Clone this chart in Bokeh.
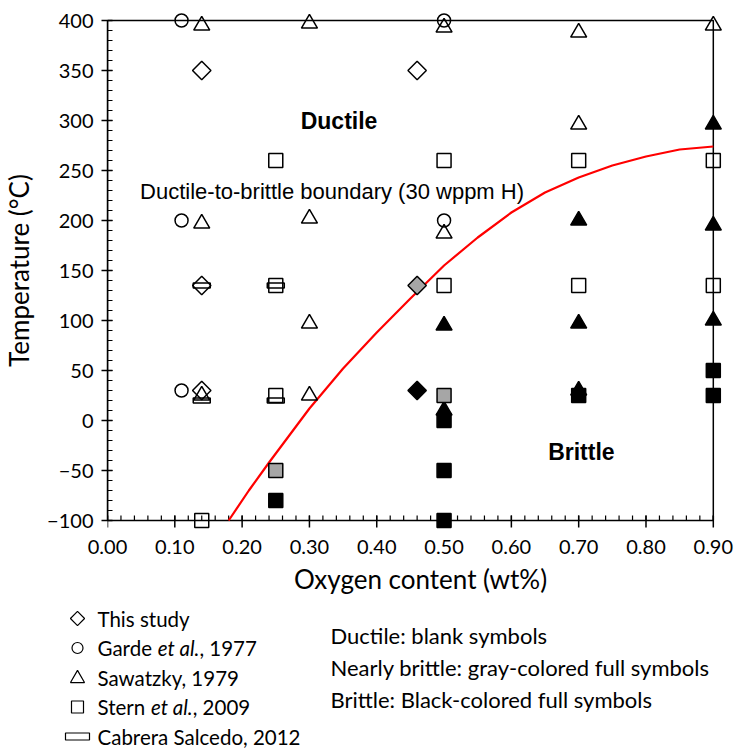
import glob
import math
import struct

from bokeh.core.properties import value
from bokeh.embed import file_html
from bokeh.layouts import column
from bokeh.models import ColumnDataSource, FixedTicker, NumeralTickFormatter, Range1d
from bokeh.plotting import figure
from bokeh.resources import INLINE

# ---------------- data ----------------
x_ticks = [0.0, 0.1, 0.2, 0.3, 0.4, 0.5, 0.6, 0.7, 0.8, 0.9]
y_ticks = [-100, -50, 0, 50, 100, 150, 200, 250, 300, 350, 400]

# state codes: D = ductile (blank), N = nearly brittle (gray), B = brittle (black)
study_o = [0.14, 0.46, 0.14, 0.14, 0.46, 0.46]
study_t = [350, 350, 135, 30, 135, 30]
study_s = ["D", "D", "D", "D", "N", "B"]

garde_o = [0.11, 0.11, 0.11, 0.50, 0.50]
garde_t = [400, 200, 30, 400, 200]
garde_s = ["D", "D", "D", "D", "D"]

sawatzky_o = [0.14, 0.30, 0.50, 0.70, 0.90, 0.14, 0.30, 0.50, 0.70, 0.30, 0.30, 0.14,
              0.90, 0.70, 0.90, 0.50, 0.70, 0.90, 0.50, 0.70]
sawatzky_t = [395, 397, 393, 388, 395, 197, 202, 187, 296, 97, 25, 25,
              296, 200, 195, 95, 97, 100, 10, 30]
sawatzky_s = ["D"] * 12 + ["B"] * 8

stern_o = [0.25, 0.50, 0.70, 0.90, 0.25, 0.50, 0.70, 0.90, 0.25, 0.14,
           0.25, 0.50,
           0.25, 0.50, 0.50, 0.50, 0.70, 0.90, 0.90]
stern_t = [260, 260, 260, 260, 135, 135, 135, 135, 25, -100,
           -50, 25,
           -80, 0, -50, -100, 25, 50, 25]
stern_s = ["D"] * 10 + ["N"] * 2 + ["B"] * 7

cabrera_o = [0.14, 0.25, 0.14, 0.25]
cabrera_t = [135, 135, 20, 20]
cabrera_s = ["D", "D", "D", "D"]

boundary_o = [0.18, 0.21, 0.24, 0.27, 0.30, 0.35, 0.40, 0.45, 0.50, 0.55,
              0.60, 0.65, 0.70, 0.75, 0.80, 0.85, 0.90]
boundary_t = [-100, -70, -42, -15, 12, 52, 88, 122, 155, 183,
              208, 228, 243, 255, 264, 271, 274]

legend_entries = [
    [("This study", "normal")],
    [("Garde ", "normal"), ("et al.", "italic"), (", 1977", "normal")],
    [("Sawatzky, 1979", "normal")],
    [("Stern ", "normal"), ("et al.", "italic"), (", 2009", "normal")],
    [("Cabrera Salcedo, 2012", "normal")],
]
legend_markers = ["diamond", "circle", "triangle", "square", "rect"]
notes = ["Ductile: blank symbols",
         "Nearly brittle: gray-colored full symbols",
         "Brittle: Black-colored full symbols"]

FILL = {"D": ("white", 0.0), "N": ("#a6a6a6", 1.0), "B": ("black", 1.0)}
FONT = "Lato"


# ---------------- text width helper (reads font metrics) ----------------
def _font_advance(pattern):
    paths = sorted(glob.glob("/usr/share/fonts/**/" + pattern, recursive=True))
    if not paths:
        return None
    try:
        data = open(paths[0], "rb").read()
        ntab = struct.unpack(">H", data[4:6])[0]
        tabs = {}
        for i in range(ntab):
            tag, _, off, _ = struct.unpack(">4sIII", data[12 + 16 * i: 28 + 16 * i])
            tabs[tag] = off
        upem = struct.unpack(">H", data[tabs[b"head"] + 18: tabs[b"head"] + 20])[0]
        nhm = struct.unpack(">H", data[tabs[b"hhea"] + 34: tabs[b"hhea"] + 36])[0]
        ho = tabs[b"hmtx"]
        adv = [struct.unpack(">H", data[ho + 4 * i: ho + 4 * i + 2])[0] for i in range(nhm)]
        co = tabs[b"cmap"]
        nsub = struct.unpack(">H", data[co + 2: co + 4])[0]
        cmap = {}
        for i in range(nsub):
            _, _, so = struct.unpack(">HHI", data[co + 4 + 8 * i: co + 12 + 8 * i])
            st = co + so
            if struct.unpack(">H", data[st: st + 2])[0] != 4:
                continue
            seg2 = struct.unpack(">H", data[st + 6: st + 8])[0]
            n = seg2 // 2
            ends = struct.unpack(">%dH" % n, data[st + 14: st + 14 + seg2])
            starts = struct.unpack(">%dH" % n, data[st + 16 + seg2: st + 16 + 2 * seg2])
            deltas = struct.unpack(">%dh" % n, data[st + 16 + 2 * seg2: st + 16 + 3 * seg2])
            rpos = st + 16 + 3 * seg2
            ros = struct.unpack(">%dH" % n, data[rpos: rpos + seg2])
            for k in range(n):
                for c in range(starts[k], min(ends[k], 0x2FF) + 1):
                    if ros[k] == 0:
                        g = (c + deltas[k]) & 0xFFFF
                    else:
                        a = rpos + 2 * k + ros[k] + 2 * (c - starts[k])
                        g = struct.unpack(">H", data[a: a + 2])[0]
                        if g:
                            g = (g + deltas[k]) & 0xFFFF
                    cmap[c] = g
            break
        return lambda s, size: sum(adv[min(cmap.get(ord(ch), 0), nhm - 1)] for ch in s) * size / upem
    except Exception:
        return None


_fallback = lambda s, size: 0.5 * size * len(s)
width_normal = _font_advance("Lato-Regular.ttf") or _fallback
width_italic = _font_advance("Lato-Italic.ttf") or width_normal


# ---------------- main chart ----------------
X_MIN, X_MAX = x_ticks[0], x_ticks[-1]
Y_MIN, Y_MAX = y_ticks[0], y_ticks[-1]
FRAME_H = 520
Y_LO, Y_HI = -110, 410
PX = FRAME_H / (Y_HI - Y_LO)          # screen pixels per degree

p = figure(width=736, height=600,
           x_range=Range1d(X_MIN, 0.93), y_range=Range1d(Y_LO, Y_HI),
           output_backend="svg", toolbar_location=None,
           min_border_left=106, min_border_right=3, min_border_top=10, min_border_bottom=70)
p.outline_line_color = None
p.grid.visible = False
p.background_fill_color = "white"
p.border_fill_color = "white"

for ax in (p.xaxis[0], p.yaxis[0]):
    ax.axis_line_color = "black"
    ax.axis_line_width = 1.5
    ax.major_tick_line_color = "black"
    ax.major_tick_line_width = 1.5
    ax.minor_tick_line_color = "black"
    ax.minor_tick_line_width = 1.2
    ax.major_tick_in = 5
    ax.major_tick_out = 6
    ax.minor_tick_in = 5
    ax.minor_tick_out = 0
    ax.major_label_text_font = FONT
    ax.major_label_text_font_size = "20px"
    ax.major_label_text_color = "black"
    ax.axis_label_text_font = FONT
    ax.axis_label_text_font_size = "26px"
    ax.axis_label_text_font_style = "normal"
    ax.axis_label_text_color = "black"

# x axis: the real axis only carries labels; its line and ticks are drawn at -100 below
xa = p.xaxis[0]
xa.axis_line_color = None
xa.major_tick_line_color = None
xa.minor_tick_line_color = None
xa.major_tick_in = 0
xa.major_tick_out = 0
xa.bounds = (X_MIN, X_MAX)
xa.ticker = FixedTicker(ticks=x_ticks, minor_ticks=[])
xa.formatter = NumeralTickFormatter(format="0.00")
xa.major_label_standoff = 9
xa.axis_label = "Oxygen content (wt%)"
xa.axis_label_standoff = 6

ya = p.yaxis[0]
ya.bounds = (Y_MIN, Y_MAX)
ya.ticker = FixedTicker(ticks=y_ticks, minor_ticks=list(range(Y_MIN, Y_MAX + 1, 10)))
ya.major_label_standoff = 8
ya.axis_label = "Temperature (°C)"
ya.axis_label_standoff = 9

# frame: bottom axis line at -100, top and right lines
p.line([X_MIN, X_MIN, X_MAX, X_MAX, X_MIN], [Y_MIN, Y_MAX, Y_MAX, Y_MIN, Y_MIN],
       line_color="black", line_width=1.5)
x_minor = [round(i * 0.02, 2) for i in range(46)]
p.segment(x0=x_minor, y0=[Y_MIN] * len(x_minor), x1=x_minor,
          y1=[Y_MIN + 5 / PX] * len(x_minor), line_color="black", line_width=1.2)
p.segment(x0=x_ticks, y0=[Y_MIN - 7 / PX] * len(x_ticks), x1=x_ticks,
          y1=[Y_MIN + 5 / PX] * len(x_ticks), line_color="black", line_width=1.5)

# boundary curve
p.line(boundary_o, boundary_t, line_color="#ff0000", line_width=2.2)


def make_src(o, t, s):
    return ColumnDataSource(dict(x=o, y=t,
                                 fc=[FILL[k][0] for k in s],
                                 fa=[FILL[k][1] for k in s]))


common = dict(fill_color="fc", fill_alpha="fa", line_color="black", line_width=1.5)
p.scatter("x", "y", source=make_src(study_o, study_t, study_s), marker="square",
          angle=math.pi / 4, size=13, **common)
p.scatter("x", "y", source=make_src(garde_o, garde_t, garde_s), marker="circle",
          size=13, **common)
p.scatter("x", "y", source=make_src(sawatzky_o, sawatzky_t, sawatzky_s), marker="triangle",
          size=16, **common)
p.scatter("x", "y", source=make_src(stern_o, stern_t, stern_s), marker="square",
          size=14, **common)
p.rect("x", "y", source=make_src(cabrera_o, cabrera_t, cabrera_s), width=17, height=5,
       width_units="screen", height_units="screen", **common)

p.text(x=[0.344], y=[300], text=["Ductile"], text_font=value("Liberation Sans"),
       text_font_style="bold", text_font_size="23px", text_align="center",
       text_baseline="middle", text_color="black")
p.text(x=[0.704], y=[-31], text=["Brittle"], text_font=value("Liberation Sans"),
       text_font_style="bold", text_font_size="23px", text_align="center",
       text_baseline="middle", text_color="black")
p.text(x=[0.3336], y=[229], text=["Ductile-to-brittle boundary (30 wppm H)"],
       text_font=value("Liberation Sans"), text_font_size="22px", text_align="center",
       text_baseline="middle", text_color="black")

# ---------------- legend panel ----------------
leg = figure(width=736, height=154, x_range=Range1d(0, 736), y_range=Range1d(154, 0),
             output_backend="svg", toolbar_location=None, x_axis_type=None, y_axis_type=None,
             min_border=0)
leg.outline_line_color = None
leg.grid.visible = False
for fig in (p, leg):
    try:
        fig.frame_align = False
    except Exception:
        pass

LEG_FS = 20.5
NOTE_FS = 22
sym_x, txt_x, row0, step = 77, 97, 18, 29.5
rows = [row0 + i * step for i in range(len(legend_entries))]

for mk, yy in zip(legend_markers, rows):
    kw = dict(fill_alpha=0, line_color="black", line_width=1.2)
    if mk == "diamond":
        leg.scatter([sym_x], [yy], marker="square", angle=math.pi / 4, size=10, **kw)
    elif mk == "circle":
        leg.scatter([sym_x], [yy], marker="circle", size=11, **kw)
    elif mk == "triangle":
        leg.scatter([sym_x], [yy + 1], marker="triangle", size=14, **kw)
    elif mk == "square":
        leg.scatter([sym_x], [yy], marker="square", size=12, **kw)
    else:
        leg.rect([sym_x], [yy], width=24, height=7, width_units="screen",
                 height_units="screen", **kw)

for entry, yy in zip(legend_entries, rows):
    cx = txt_x
    for txt, style in entry:
        leg.text(x=[cx], y=[yy], text=[txt], text_font=value(FONT), text_font_style=style,
                 text_font_size="%gpx" % LEG_FS, text_align="left", text_baseline="middle",
                 text_color="black")
        cx += (width_italic if style == "italic" else width_normal)(txt, LEG_FS)

for i, note in enumerate(notes):
    leg.text(x=[330], y=[35 + i * 32], text=[note], text_font=value(FONT),
             text_font_size="%gpx" % NOTE_FS, text_align="left", text_baseline="middle",
             text_color="black")

layout = column(p, leg, spacing=0)
open("out.html", "w").write(file_html(layout, INLINE))
